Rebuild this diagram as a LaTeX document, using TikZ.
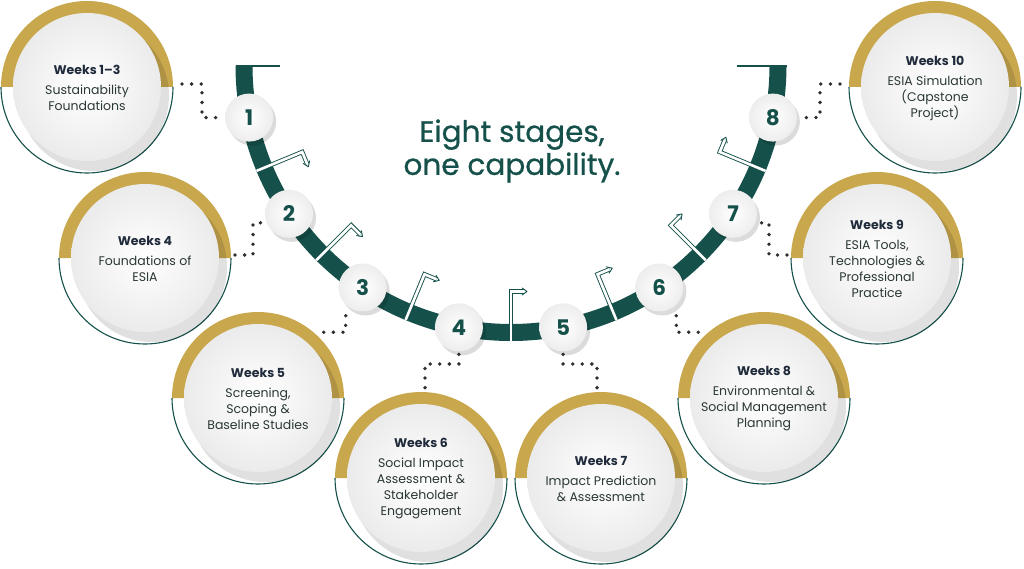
\documentclass[tikz,border=0pt]{standalone}
\usepackage{fontspec}
\setmainfont{Poppins}
\newfontfamily\titlefont{Poppins}[FakeBold=0.7]
\usetikzlibrary{calc}
\definecolor{bandgreen}{HTML}{15514A}
\definecolor{gold}{HTML}{C8A74D}
\definecolor{navy}{HTML}{1F2A3A}
\definecolor{bodytxt}{HTML}{2A3836}
\definecolor{dotgray}{HTML}{2E2E2E}
\definecolor{discedge}{HTML}{EBEBEB}
\newcommand\wk[1]{{\fontsize{12.5}{16}\selectfont\bfseries\color{navy}#1}}
\newcommand\card[4]{%
  \fill[gold] (#2,#3) ++(-86,0) arc[start angle=180,end angle=360,radius=86] -- cycle;
  \draw[bandgreen,line width=1.1pt] (#2,#3) ++(86,0) arc[start angle=0,end angle=180,radius=86];
  \fill[black,opacity=.12] (#2+7,#3+9) circle[radius=75];
  \shade[inner color=white,outer color=discedge] (#2,#3) circle[radius=74];
  \node[cardnode] (#1) at (#2,#3) {};
  \node[cardtext] (#1t) at (#2,#3+1) {#4};
}
\begin{document}
\begin{tikzpicture}[x=1pt,y=-1pt,
  cardnode/.style={circle,minimum size=172pt,inner sep=0pt,outer sep=0pt},
  cardtext/.style={align=center,text=bodytxt,font=\fontsize{12.5}{16}\selectfont},
  numnode/.style={circle,minimum size=48pt,inner sep=0pt,outer sep=0pt,
    inner color=white,outer color=black!7,shade,text=bandgreen,
    font=\fontsize{21.5}{21.5}\selectfont\bfseries},
  dots/.style={dotgray,line width=3.8pt,line cap=round,dash pattern=on 0pt off 9.6pt},
  bandline/.style={bandgreen,line width=17pt},
  gapline/.style={bandgreen,line width=0.9pt,double=white,double distance=2.6pt},
  tipline/.style={bandgreen,line width=0.9pt,line cap=round,line join=round},
  titlestyle/.style={align=center,text=bandgreen,font=\titlefont\fontsize{29.5}{33}\selectfont}]
\useasboundingbox (0,0) rectangle (1024,569);
\fill[white] (0,0) rectangle (1024,569);

% cards
\card{c1}{87}{87}{\wk{Weeks 1–3}\\[4pt]Sustainability\\Foundations}
\card{c2}{145}{258}{\wk{Weeks 4}\\[4pt]Foundations of\\ESIA}
\card{c3}{258}{398}{\wk{Weeks 5}\\[4pt]Screening,\\Scoping \&\\Baseline Studies}
\card{c4}{421}{478}{\wk{Weeks 6}\\[4pt]Social Impact\\Assessment \&\\Stakeholder\\Engagement}
\card{c5}{601}{478}{\wk{Weeks 7}\\[4pt]Impact Prediction\\\& Assessment}
\card{c6}{764}{398}{\wk{Weeks 8}\\[4pt]Environmental \&\\Social Management\\Planning}
\card{c7}{877}{258}{\wk{Weeks 9}\\[4pt]ESIA Tools,\\Technologies \&\\Professional\\Practice}
\card{c8}{935}{87}{\wk{Weeks 10}\\[4pt]ESIA Simulation\\(Capstone\\Project)}

% band
\coordinate (C) at (511,65.5);
\draw[bandline] ($(C)+(180:267)$) arc[start angle=180,end angle=0,radius=267];
\draw[bandgreen,line width=1.2pt] ($(C)+(180:275.5)+(0,0.6)$) -- ++(44.5,0);
\draw[bandgreen,line width=1.2pt] ($(C)+(0:275.5)+(0,0.6)$) -- ++(-49.5,0);

% gap arrows
\foreach \g in {157.5,135,112.5,90,67.5,45,22.5}{
  \draw[gapline] ($(C)+(\g:275.5)$) -- ($(C)+(\g:226)$) -- ++(\g-90:13);
  \coordinate (P) at ($(C)+(\g:226)+(\g-90:16)$);
  \draw[tipline] ($(P)+(\g+125:6)$) -- (P) -- ($(P)+(\g+55:6)$);
}

% number circles
\foreach \i/\a in {1/168.75,2/146.25,3/123.75,4/101.25,5/78.75,6/56.25,7/33.75,8/11.25}{
  \fill[black,opacity=.14] ($(C)+(\a:267)+(3,4)$) circle[radius=24];
  \node[numnode] (n\i) at ($(C)+(\a:267)$) {\i};
}

% dotted connectors
\draw[dots] ($(c1.east)+(9,-3)$) -- ++(20,0) |- ($(n1.west)+(-3,0)$);
\draw[dots] ($(c2.east)+(4,-3)$) -- ++(18,0) |- ($(n2)+(-26,9)$);
\draw[dots] ($(c3)+(-45:93)$) -| ($(n3)+(-17,21)$);
\draw[dots] ($(n4.south)+(0,3)$) |- ($(c4.north)+(4,-28)$) -- ($(c4.north)+(4,-4)$);
\draw[dots] ($(n5.south)+(0,3)$) |- ($(c5.north)+(-4,-28)$) -- ($(c5.north)+(-4,-4)$);
\draw[dots] ($(c6)+(-135:93)$) -| ($(n6)+(17,21)$);
\draw[dots] ($(c7.west)+(-4,-3)$) -- ++(-18,0) |- ($(n7)+(26,9)$);
\draw[dots] ($(c8.west)+(-9,-3)$) -- ++(-20,0) |- ($(n8.east)+(3,0)$);

% title
\node[titlestyle] (title) at (512,151) {Eight stages,\\one capability.};
\end{tikzpicture}
\end{document}
